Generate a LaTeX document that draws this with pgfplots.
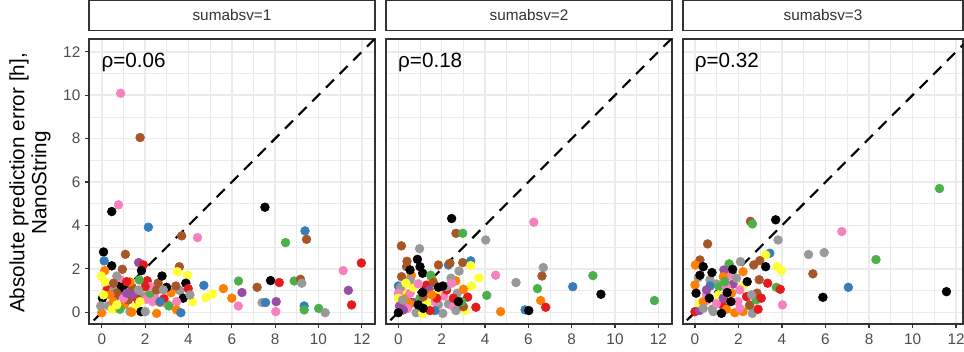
\documentclass[border=0pt]{standalone}
\usepackage{pgfplots}
\pgfplotsset{compat=1.18}
\usepackage{pgfplotstable}
\usepackage{fontspec}
\setmainfont{Liberation Sans}
\definecolor{sred}{HTML}{E41A1C}
\definecolor{sblue}{HTML}{377EB8}
\definecolor{sgreen}{HTML}{4DAF4A}
\definecolor{spurple}{HTML}{984EA3}
\definecolor{sorange}{HTML}{FF7F00}
\definecolor{syellow}{HTML}{FFFF33}
\definecolor{sbrown}{HTML}{A65628}
\definecolor{spink}{HTML}{F781BF}
\definecolor{sgrey}{HTML}{999999}
\definecolor{sblack}{HTML}{000000}
\definecolor{gridc}{HTML}{EBEBEB}
\definecolor{c20}{HTML}{333333}
\definecolor{c30}{HTML}{4D4D4D}

\pgfplotstableread{
x y c
0.87 10.09 pink
1.77 8.05 brown
0.77 4.95 pink
0.46 4.64 black
2.15 3.92 blue
7.53 4.84 black
3.69 3.52 brown
4.42 3.44 pink
9.38 3.75 blue
9.45 3.36 brown
8.48 3.21 green
11.98 2.27 red
11.14 1.92 pink
0.25 1.05 red
0.60 0.70 purple
1.05 0.35 orange
1.55 0.25 yellow
1.90 0.75 grey
2.45 0.70 pink
3.20 0.90 orange
3.60 1.00 grey
0.30 0.30 grey
0.85 1.50 pink
1.40 1.15 brown
2.10 1.45 red
2.60 1.35 brown
0.15 1.40 yellow
3.00 0.40 pink
1.65 0.60 red
0.95 0.95 purple
0.08 2.78 black
0.11 2.37 blue
1.09 2.67 brown
1.70 2.29 purple
1.92 2.18 red
0.46 2.14 black
3.58 2.10 brown
0.14 1.92 orange
0.95 1.98 brown
1.83 1.92 black
-0.02 1.67 yellow
0.69 1.67 grey
2.78 1.67 black
3.49 1.87 yellow
3.95 1.71 yellow
1.73 1.49 green
1.30 1.40 orange
3.88 1.34 black
4.71 1.24 blue
2.99 1.15 black
3.42 1.21 brown
3.99 1.09 red
5.61 1.09 orange
6.31 1.44 green
7.17 1.15 brown
7.79 1.46 black
8.19 1.37 red
8.88 1.44 green
9.17 1.52 brown
9.23 1.34 grey
6.47 0.91 purple
11.38 1.01 purple
5.11 0.84 yellow
4.81 0.68 yellow
4.19 0.49 yellow
6.00 0.65 orange
0.78 1.18 black
0.94 1.15 black
0.03 0.65 black
3.76 0.65 black
4.07 0.80 grey
2.87 0.63 red
2.07 0.60 pink
2.35 0.49 pink
7.40 0.45 grey
7.56 0.45 blue
8.05 0.49 purple
6.30 0.29 pink
8.03 0.03 pink
9.34 0.29 blue
9.34 0.11 green
10.01 0.18 green
10.31 -0.02 grey
11.53 0.34 red
3.10 0.29 green
3.45 0.49 pink
3.45 0.11 orange
3.65 -0.02 blue
1.81 0.03 black
2.53 -0.05 orange
0.00 -0.02 orange
-0.05 0.29 grey
0.49 0.14 yellow
0.84 0.14 green
1.30 0.03 grey
1.38 0.00 orange
2.01 0.03 grey
0.54 0.49 orange
1.23 0.57 brown
1.46 0.83 purple
0.54 1.03 grey
0.69 0.88 brown
1.00 0.65 pink
1.76 0.49 yellow
0.69 0.34 yellow
2.23 0.88 green
2.23 1.18 pink
2.53 1.03 brown
2.84 1.03 grey
2.69 0.45 orange
2.69 0.49 blue
2.00 1.18 red
1.15 0.88 purple
0.38 0.80 orange
0.08 0.80 yellow
0.54 1.34 brown
1.15 1.41 red
1.69 1.03 grey
}\dataA

\pgfplotstableread{
x y c
2.46 4.32 black
2.66 3.64 brown
2.97 3.64 green
4.03 3.33 grey
6.25 4.15 pink
0.14 3.06 brown
0.98 2.93 grey
0.70 0.45 purple
1.30 1.25 red
0.25 0.95 yellow
1.85 0.35 grey
2.65 1.45 orange
0.60 1.70 orange
2.10 0.75 pink
3.20 0.70 red
1.55 1.55 orange
0.40 2.35 brown
2.80 1.90 grey
0.88 2.44 black
1.00 2.10 black
0.38 2.10 brown
0.54 1.95 black
1.12 1.80 black
1.85 2.18 brown
2.31 2.18 blue
2.38 2.26 brown
2.97 2.29 brown
3.34 2.37 blue
3.34 2.15 yellow
6.69 2.06 grey
6.63 1.67 brown
8.98 1.69 green
4.49 1.71 pink
3.72 1.58 yellow
5.43 1.37 grey
6.42 1.09 green
8.05 1.18 blue
4.08 0.78 green
9.35 0.83 black
11.82 0.54 green
6.57 0.54 orange
6.80 0.23 red
5.85 0.11 blue
6.02 0.08 black
4.72 0.03 orange
3.58 0.23 red
3.38 1.21 yellow
1.49 1.71 green
2.43 1.57 grey
0.00 1.21 blue
0.11 1.15 grey
0.00 0.88 pink
0.00 0.65 yellow
0.05 0.29 purple
0.38 0.65 orange
0.54 0.88 pink
0.69 1.15 yellow
0.92 1.31 pink
1.62 1.37 brown
1.43 1.03 purple
1.77 0.88 yellow
2.23 1.03 red
2.72 0.88 grey
3.00 1.06 orange
1.69 0.49 pink
1.31 0.41 yellow
2.05 -0.05 grey
0.82 -0.02 grey
1.12 -0.05 yellow
1.69 0.08 blue
1.46 0.08 red
2.31 0.38 grey
2.54 0.26 pink
3.08 0.08 yellow
2.66 0.08 grey
3.00 0.26 brown
2.92 0.49 green
1.77 0.65 red
0.54 0.38 orange
0.42 0.18 pink
0.23 0.11 purple
1.00 0.65 green
0.20 0.57 grey
0.15 1.64 brown
0.54 1.49 grey
0.35 1.34 yellow
1.15 0.72 brown
2.23 1.18 grey
2.46 1.34 pink
2.54 0.65 red
1.54 0.80 orange
1.85 1.15 black
2.05 1.21 black
1.12 0.91 black
0.92 0.34 black
1.15 0.18 black
0.00 -0.02 black
2.77 0.49 black
}\dataB

\pgfplotstableread{
x y c
11.24 5.70 green
2.55 4.19 brown
2.64 4.07 green
3.71 4.26 black
6.75 3.72 pink
3.82 3.33 grey
0.58 3.15 brown
5.22 2.66 grey
5.94 2.75 grey
8.32 2.43 green
3.44 2.72 blue
3.25 2.64 yellow
2.98 2.38 brown
2.70 2.18 brown
2.09 2.33 grey
3.77 2.10 yellow
3.97 1.92 yellow
5.42 1.77 brown
7.05 1.15 blue
3.34 1.34 red
3.74 1.15 green
3.92 1.06 red
4.02 0.34 pink
0.55 0.55 pink
1.00 1.30 grey
1.75 1.30 purple
2.20 1.20 yellow
2.50 0.30 green
0.15 1.60 grey
1.25 0.35 red
0.80 0.15 grey
2.95 1.50 brown
1.60 1.70 pink
0.23 2.41 brown
0.02 2.18 orange
1.57 2.23 green
1.33 1.95 purple
2.21 1.87 orange
0.69 1.49 grey
0.00 1.26 orange
0.00 0.03 red
0.20 0.08 purple
0.84 0.03 grey
1.83 -0.02 orange
2.21 0.03 orange
2.64 -0.05 grey
2.90 0.14 red
2.52 0.34 brown
2.82 0.57 green
2.85 0.88 brown
3.05 0.65 red
1.98 0.49 pink
0.99 0.41 pink
0.23 0.41 yellow
0.69 1.21 blue
1.11 1.18 green
1.44 1.18 pink
2.06 1.03 pink
1.07 0.80 yellow
0.38 0.49 orange
1.30 0.65 purple
2.37 0.72 red
2.60 0.80 grey
1.68 0.88 orange
0.53 0.80 pink
0.38 0.18 grey
1.45 0.14 orange
2.06 0.18 pink
1.30 1.64 orange
1.91 1.57 grey
1.37 1.41 green
0.53 1.03 purple
3.25 2.10 black
0.38 2.10 black
0.23 1.71 black
0.78 1.83 black
1.73 1.98 black
2.40 1.41 black
0.05 0.88 black
0.66 0.65 black
1.48 0.91 black
1.65 0.49 black
1.22 -0.05 black
5.88 0.69 black
11.56 0.95 black
}\dataC

\pgfplotsset{
  panel/.style={
    scale only axis, anchor=south west, height=213.75pt,
    ymin=-0.54, ymax=12.59,
    xtick={0,2,...,12}, ytick={0,2,...,12},
    minor xtick={1,3,...,11}, minor ytick={1,3,...,11},
    grid=both,
    major grid style={draw=gridc, line width=1.1pt},
    minor grid style={draw=gridc, line width=0.55pt},
    axis line style={draw=c20, line width=0.9pt},
    tick align=outside, major tick length=3pt, minor tick length=0pt,
    tick style={draw=c20, line width=0.9pt},
    xtick pos=bottom, ytick pos=left,
    every tick label/.append style={text=c30, font=\fontsize{11.5}{13}\selectfont},
    /pgf/number format/assume math mode=true,
    xticklabel style={yshift=-1pt},
    title style={at={(0.5,1)}, anchor=south, draw=c20, line width=0.9pt, fill=white,
      minimum height=22.5pt, inner sep=0pt, yshift=0pt, text=c20,
      font=\fontsize{11.5}{13}\selectfont},
  },
  pts/.style={scatter, only marks, mark=*, mark size=3.3pt,
    scatter src=explicit symbolic,
    scatter/classes={
      red={sred}, blue={sblue}, green={sgreen}, purple={spurple},
      orange={sorange}, yellow={syellow}, brown={sbrown}, pink={spink},
      grey={sgrey}, black={sblack}}},
  diag/.style={black, line width=1.6pt, dash pattern=on 8.5pt off 6pt, forget plot},
}

\begin{document}
\begin{tikzpicture}
\path[use as bounding box] (0,0) rectangle (723pt,263.25pt);

\begin{axis}[panel, at={(66.75pt,20.25pt)}, width=214.5pt,
  xmin=-0.59, xmax=12.61, title={sumabsv=1},
  title style={minimum width=214.5pt}]
\addplot[pts] table[x=x, y=y, meta=c] {\dataA};
\addplot[diag] coordinates {(-1,-1) (13,13)};
\node[anchor=west, font=\fontsize{15.5}{17}\selectfont, inner sep=0pt] at (axis cs:-0.02,11.5) {ρ=0.06};
\end{axis}

\begin{axis}[panel, at={(289.5pt,20.25pt)}, width=214.5pt,
  xmin=-0.57, xmax=12.63, title={sumabsv=2},
  title style={minimum width=214.5pt},
  yticklabels={}, ytick style={draw=none}]
\addplot[pts] table[x=x, y=y, meta=c] {\dataB};
\addplot[diag] coordinates {(-1,-1) (13,13)};
\node[anchor=west, font=\fontsize{15.5}{17}\selectfont, inner sep=0pt] at (axis cs:-0.02,11.5) {ρ=0.18};
\end{axis}

\begin{axis}[panel, at={(512.25pt,20.25pt)}, width=210pt,
  xmin=-0.55, xmax=12.32, title={sumabsv=3},
  title style={minimum width=210pt},
  yticklabels={}, ytick style={draw=none}]
\addplot[pts] table[x=x, y=y, meta=c] {\dataC};
\addplot[diag] coordinates {(-1,-1) (13,13)};
\node[anchor=west, font=\fontsize{15.5}{17}\selectfont, inner sep=0pt] at (axis cs:-0.02,11.5) {ρ=0.32};
\end{axis}

\node[rotate=90, align=center, font=\fontsize{15.5}{16.5}\selectfont, text=black]
  at (22.5pt,126pt) {Absolute prediction error [h],\\NanoString};
\end{tikzpicture}
\end{document}
